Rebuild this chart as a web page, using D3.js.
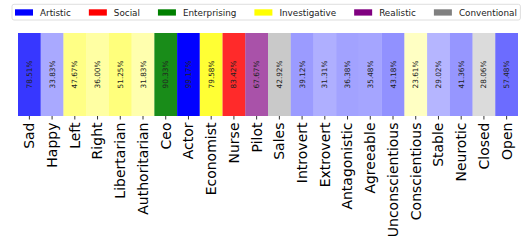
<!DOCTYPE html>
<html><head><meta charset="utf-8">
<script src="https://cdn.jsdelivr.net/npm/d3@7"></script>
<style>body{margin:0;background:#fff}svg{display:block;font-family:"DejaVu Sans",sans-serif}</style>
</head><body><svg id="c" width="528" height="246"></svg>
<script>
const categories = ["Sad","Happy","Left","Right","Libertarian","Authoritarian","Ceo","Actor","Economist","Nurse","Pilot","Sales","Introvert","Extrovert","Antagonistic","Agreeable","Unconscientious","Conscientious","Stable","Neurotic","Closed","Open"];
const values = [78.51,33.83,47.67,36.00,51.25,31.83,90.33,99.17,79.58,83.42,67.67,42.92,39.12,31.31,36.38,35.48,43.18,23.61,29.02,41.36,28.06,57.48];
const types = ["Artistic","Artistic","Investigative","Investigative","Investigative","Investigative","Enterprising","Artistic","Investigative","Social","Realistic","Conventional","Artistic","Artistic","Artistic","Artistic","Artistic","Investigative","Artistic","Artistic","Conventional","Artistic"];
const legendNames = ["Artistic","Social","Enterprising","Investigative","Realistic","Conventional"];
const legendColors = ["#0000ff","#ff0000","#008000","#ffff00","#800080","#808080"];

const svg = d3.select("#c");
const color = d3.scaleOrdinal().domain(legendNames).range(legendColors);
const x = d3.scaleBand().domain(categories).range([18, 518]).padding(0);
const y0 = 33, y1 = 116;
const data = categories.map((c,i)=>({c, v: values[i], t: types[i]}));

svg.append("g").selectAll("rect").data(data).join("rect")
  .attr("x", d=>x(d.c)).attr("y", y0).attr("width", x.bandwidth()).attr("height", y1-y0)
  .attr("fill", d=>color(d.t)).attr("fill-opacity", d=>d.v/100);

svg.append("g").selectAll("text").data(data).join("text")
  .attr("transform", d=>`translate(${x(d.c)+x.bandwidth()/2},${(y0+y1)/2}) rotate(-90)`)
  .attr("text-anchor","middle").attr("dy","0.35em")
  .attr("font-size","7.3px").attr("fill","#222")
  .text(d=>d.v.toFixed(2)+"%");

const ax = svg.append("g").attr("transform",`translate(0,${y1})`)
  .call(d3.axisBottom(x).tickSize(3.5).tickPadding(3));
ax.select(".domain").remove();
ax.selectAll(".tick line").attr("stroke","#000").attr("stroke-width",0.8);
ax.selectAll(".tick text")
  .attr("font-family","DejaVu Sans, sans-serif").attr("font-size","14px").attr("fill","#000")
  .attr("transform","rotate(-90)").attr("text-anchor","end")
  .attr("x",-6.5).attr("y",0).attr("dy","0.35em");

// legend
const lg = svg.append("g");
const box = lg.append("rect").attr("x",12).attr("y",4.3).attr("height",15.7)
  .attr("rx",2).attr("fill","#fff").attr("stroke","#d6d6d6").attr("stroke-width",0.8);
let cx = 15;
legendNames.forEach((n,i)=>{
  lg.append("rect").attr("x",cx).attr("y",9.3).attr("width",18).attr("height",6.3).attr("fill",legendColors[i]);
  const t = lg.append("text").attr("x",cx+25).attr("y",12.5).attr("dy","0.35em")
    .attr("font-size","8.8px").attr("fill","#222").text(n);
  cx = cx + 25 + t.node().getComputedTextLength() + 18;
});
box.attr("width", cx - 18 + 3.5 - 12);
</script></body></html>
